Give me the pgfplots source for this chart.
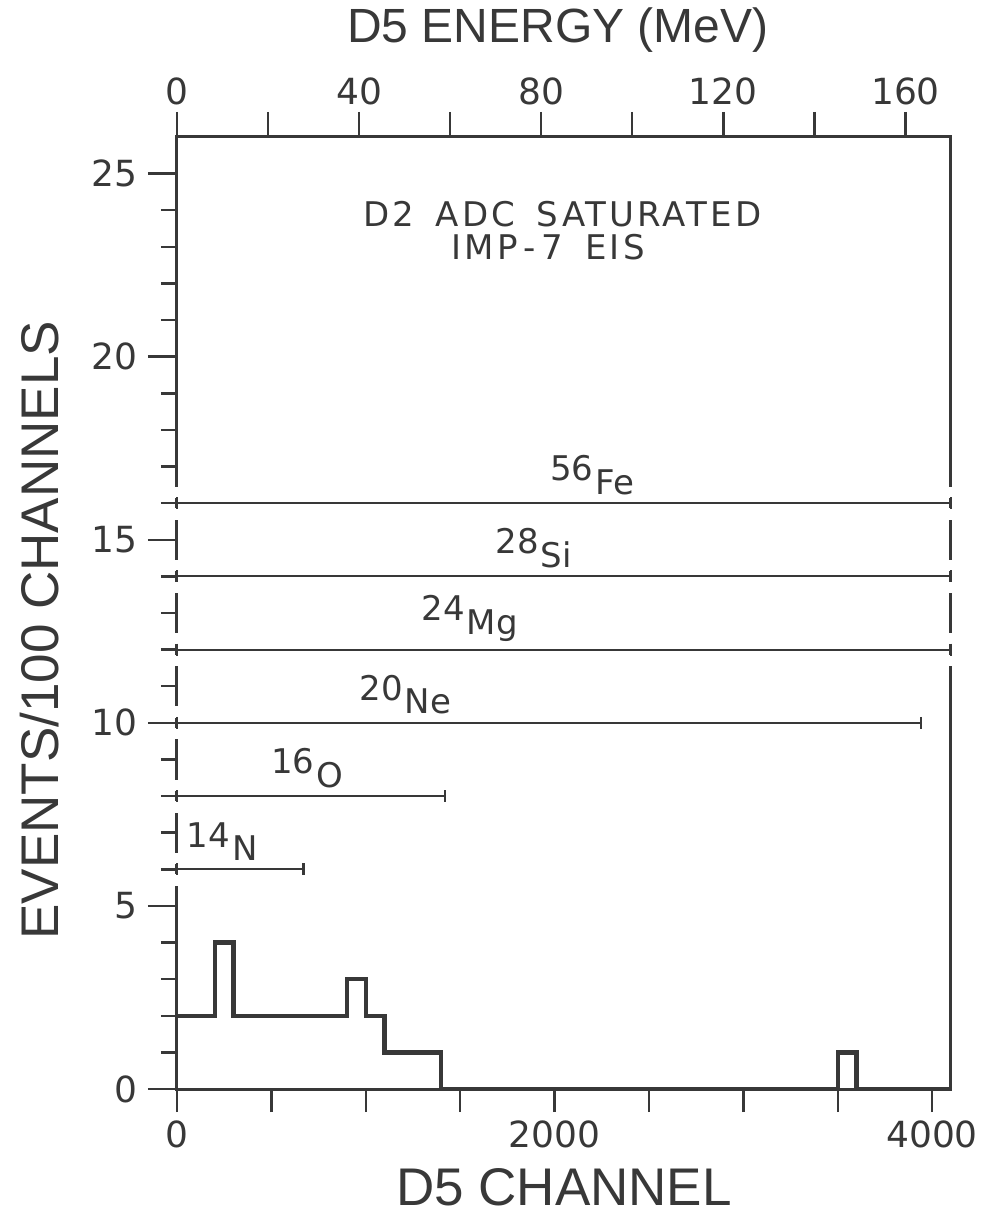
\documentclass[border=0pt]{standalone}
\usepackage{pgfplots}
\pgfplotsset{compat=1.18}
\usepackage{fontspec}
\setmainfont{Liberation Sans}
\newfontfamily\djv{DejaVu Sans}
\newfontfamily\djvs{DejaVu Sans}[LetterSpace=9]
\definecolor{ink}{HTML}{383838}
\newcommand\iso[2]{#1\hspace{1pt}\raisebox{-0.40em}{#2}}
\pgfplotsset{
  frame/.style={scale only axis, width=387pt, height=476pt,
    xmin=0, xmax=4100, ymin=0, ymax=26,
    axis line style={ink, line width=1.5pt},
    every tick/.style={ink, line width=1.2pt},
    tick align=outside,
    tick label style={font=\djv\fontsize{18}{18}\selectfont, text=ink},
    /pgf/number format/assume math mode=true,
    label style={font=\fontsize{26.5}{26.5}\selectfont, text=ink}},
}
\begin{document}
\begin{tikzpicture}
\begin{axis}[
  frame,
  clip=false,
  xtick={0,500,...,4000},
  xticklabels={0,,,,2000,,,,4000},
  ytick=\empty,
  xtick pos=bottom,
  major tick length=11.5pt,
  x tick label style={yshift=-1pt},
  xlabel={D5 CHANNEL}, ylabel={EVENTS/100 CHANNELS},
  xlabel style={at={(axis description cs:0.5,0)}, anchor=center, yshift=-49pt},
  ylabel style={at={(axis description cs:-0.177,0.482)}, anchor=center},
]
% histogram
\addplot[const plot, ink, line width=2.2pt] coordinates {
  (0,2) (200,4) (300,2) (900,3) (1000,2) (1100,1) (1400,0) (3500,1) (3600,0) (4100,0)};
% range bars
\addplot[ink, line width=1.1pt, mark=|, mark size=3pt, mark options={line width=1.1pt}] coordinates {(0,16) (4100,16)};
\addplot[ink, line width=1.1pt, mark=|, mark size=3pt, mark options={line width=1.1pt}] coordinates {(0,14) (4100,14)};
\addplot[ink, line width=1.1pt, mark=|, mark size=3pt, mark options={line width=1.1pt}] coordinates {(0,12) (4100,12)};
\addplot[ink, line width=1.1pt, mark=|, mark size=3pt, mark options={line width=1.1pt}] coordinates {(0,10) (3940,10)};
\addplot[ink, line width=1.1pt, mark=|, mark size=3pt, mark options={line width=1.1pt}] coordinates {(0,8) (1420,8)};
\addplot[ink, line width=1.1pt, mark=|, mark size=3pt, mark options={line width=1.1pt}] coordinates {(0,6) (670,6)};
% gaps in frame around the range bars
\foreach \v in {16,14,12,10,8,6} {
  \addplot[white, line width=4pt, forget plot] coordinates {(0,\v+0.14) (0,\v+0.45)};
  \addplot[white, line width=4pt, forget plot] coordinates {(0,\v-0.45) (0,\v-0.14)};
}
\foreach \v in {16,14,12} {
  \addplot[white, line width=4pt, forget plot] coordinates {(4100,\v+0.14) (4100,\v+0.45)};
  \addplot[white, line width=4pt, forget plot] coordinates {(4100,\v-0.45) (4100,\v-0.14)};
}
% labels
\begin{scope}[every node/.style={font=\djv\fontsize{17}{17}\selectfont, text=ink, anchor=south, inner sep=0pt, yshift=4pt}]
\node at (axis cs:2200,16) {\iso{56}{Fe}};
\node at (axis cs:1890,14) {\iso{28}{Si}};
\node at (axis cs:1550,12) {\iso{24}{Mg}};
\node at (axis cs:1210,10) {\iso{20}{Ne}};
\node at (axis cs:690,8) {\iso{16}{O}};
\node at (axis cs:240,6) {\iso{14}{N}};
\end{scope}
\node[font=\djvs\fontsize{17}{17}\selectfont, text=ink] at (axis cs:2040,23.9) {D2\hspace{4pt} ADC\hspace{4pt} SATURATED};
\node[font=\djvs\fontsize{17}{17}\selectfont, text=ink] at (axis cs:1966,23.0) {IMP\hspace{3pt}-\hspace{3pt}7\hspace{4pt} EIS};
\end{axis}
% left ticks (frame line invisible so the gaps stay)
\begin{axis}[
  frame,
  axis y line*=left, axis x line=none,
  y axis line style={draw=none},
  ytick={0,5,...,25},
  minor ytick={1,...,24},
  major tick length=14.5pt, minor tick length=8pt,
  y tick label style={xshift=-2pt},
]
\end{axis}
% top energy axis
\begin{axis}[
  frame,
  xmin=0, xmax=170,
  axis x line*=top, axis y line=none,
  xtick={0,20,...,160}, xticklabels={0,,40,,80,,120,,160},
  major tick length=12.5pt,
  xlabel={D5 ENERGY (MeV)},
  xlabel style={font=\fontsize{24}{24}\selectfont, at={(axis description cs:0.5,1)}, anchor=center, yshift=53.5pt, xshift=-3pt},
]
\end{axis}
\pgfresetboundingbox
\path[use as bounding box] (-88.5pt,-67pt) rectangle (407.5pt,544.5pt);
\end{tikzpicture}
\end{document}
